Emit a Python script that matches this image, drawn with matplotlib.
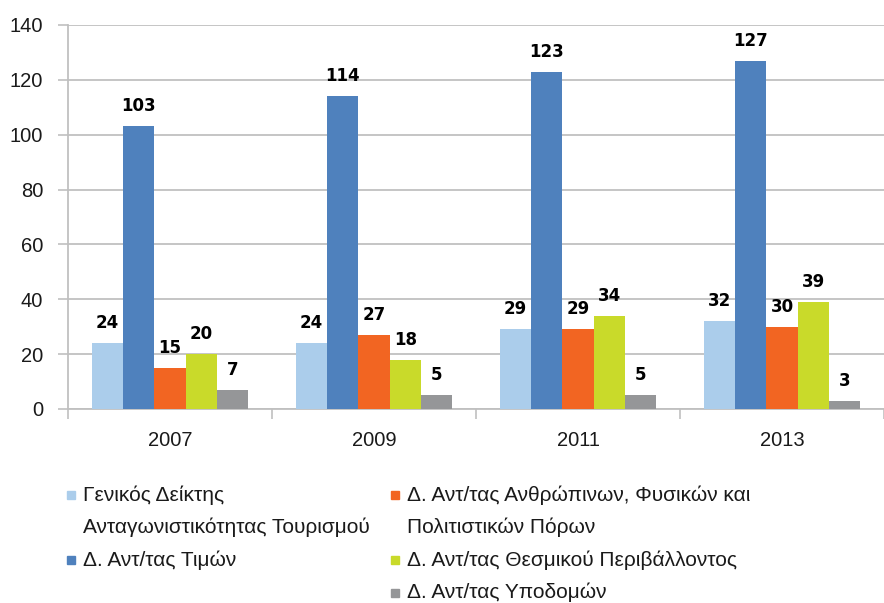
import numpy as np
import matplotlib.pyplot as plt
from matplotlib.patches import Rectangle

years = ['2007', '2009', '2011', '2013']
general = [24, 24, 29, 32]
prices = [103, 114, 123, 127]
resources = [15, 27, 29, 30]
institutional = [20, 18, 34, 39]
infrastructure = [7, 5, 5, 3]

names = ['Γενικός Δείκτης\nΑνταγωνιστικότητας Τουρισμού',
         'Δ. Αντ/τας Τιμών',
         'Δ. Αντ/τας Ανθρώπινων, Φυσικών και\nΠολιτιστικών Πόρων',
         'Δ. Αντ/τας Θεσμικού Περιβάλλοντος',
         'Δ. Αντ/τας Υποδομών']
colors = ['#abcdeb', '#4f81bd', '#f26522', '#c9da2a', '#959698']
all_series = [general, prices, resources, institutional, infrastructure]

plt.rcParams['font.family'] = ['Liberation Sans', 'DejaVu Sans']
W, H = 884, 603
fig = plt.figure(figsize=(W / 100, H / 100), dpi=100)
ax = fig.add_axes([68 / W, 1 - 409 / H, 1 - 68 / W, (409 - 25) / H])

x = np.arange(len(years))
bw = 0.153
for i, (vals, col) in enumerate(zip(all_series, colors)):
    pos = x + (i - 2) * bw
    ax.bar(pos, vals, width=bw, color=col, zorder=3)
    for px_, v in zip(pos, vals):
        ax.annotate(str(v), (px_, v), xytext=(0, 8), textcoords='offset points',
                    ha='center', va='bottom', fontsize=12, fontweight='bold',
                    family='DejaVu Sans', color='black')

ax.set_ylim(0, 140)
ax.set_xlim(-0.5, 3.44)
ax.set_yticks(range(0, 141, 20))
ax.grid(axis='y', color='#c0c0c0', linewidth=1.3, zorder=0)
ax.set_xticks(np.arange(-0.5, 4, 1))
ax.set_xticklabels([])
ax.set_xticks(x, minor=True)
ax.set_xticklabels(years, minor=True)
ax.tick_params(axis='x', which='major', length=7, color='#c0c0c0', width=1.2)
ax.tick_params(axis='x', which='minor', length=0, pad=16, labelsize=14.5, labelcolor='#1a1a1a')
ax.tick_params(axis='y', length=7, color='#c0c0c0', width=1.2, pad=11, labelsize=14.5, labelcolor='#1a1a1a')
for s in ['top', 'right']:
    ax.spines[s].set_visible(False)
for s in ['left', 'bottom']:
    ax.spines[s].set_color('#c0c0c0')
    ax.spines[s].set_linewidth(1.3)

# legend drawn by hand: two columns, rows 32.5 px apart
row_y = [495, 527.5, 560, 592.5]
col_x = [67, 391]
slots = [(0, 0), (0, 2), (1, 0), (1, 2), (1, 3)]
for name, col, (c, r) in zip(names, colors, slots):
    mx = col_x[c]
    fig.add_artist(Rectangle((mx / W, 1 - (row_y[r] + 4) / H), 8 / W, 8 / H,
                             transform=fig.transFigure, color=col))
    for k, line in enumerate(name.split('\n')):
        fig.text((mx + 16) / W, 1 - row_y[r + k] / H, line, fontsize=15,
                 color='#1a1a1a', va='center', ha='left')

fig.savefig('out.png', dpi=100)
